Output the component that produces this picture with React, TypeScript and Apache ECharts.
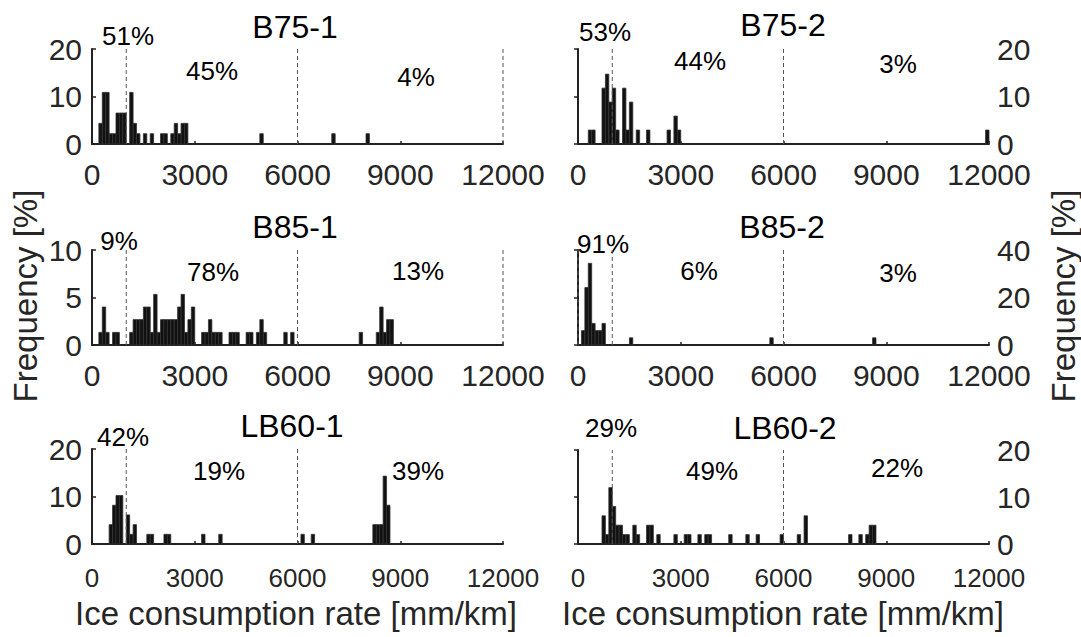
import React, { useEffect, useRef } from "react";
import * as echarts from "echarts";

// ---------- data (bin start [mm/km], frequency [%]) ----------
const BIN_WIDTH = 100;
const X_TICKS = [0, 3000, 6000, 9000, 12000];

const B75_1_START = [200, 300, 400, 500, 600, 700, 800, 900, 1100, 1200, 1300, 1500, 1700, 2000, 2100, 2300, 2400, 2500, 2600, 2700, 4900, 7000, 8000];
const B75_1_FREQ = [4.35, 10.87, 10.87, 2.17, 2.17, 6.52, 6.52, 6.52, 10.87, 4.35, 2.17, 2.17, 2.17, 2.17, 2.17, 2.17, 4.35, 2.17, 4.35, 4.35, 2.17, 2.17, 2.17];
const B75_1_LINES = [1000, 6000, 12000];
const B75_1_PCT = ["51%", "45%", "4%"];

const B75_2_START = [300, 400, 700, 800, 900, 1000, 1100, 1300, 1400, 1500, 1700, 2000, 2600, 2800, 2900, 11900];
const B75_2_FREQ = [2.94, 2.94, 11.76, 14.71, 8.82, 11.76, 2.94, 11.76, 2.94, 8.82, 2.94, 2.94, 2.94, 5.88, 2.94, 2.94];
const B75_2_LINES = [1000, 6000];
const B75_2_PCT = ["53%", "44%", "3%"];

const B85_1_START = [200, 300, 400, 600, 700, 1100, 1200, 1300, 1400, 1500, 1600, 1700, 1800, 1900, 2000, 2100, 2200, 2300, 2400, 2500, 2600, 2700, 2800, 2900, 3200, 3300, 3400, 3500, 3600, 3700, 4000, 4100, 4200, 4500, 4600, 4800, 4900, 5000, 5600, 5800, 7800, 8300, 8400, 8500, 8600, 8700];
const B85_1_FREQ = [1.33, 4, 1.33, 1.33, 1.33, 1.33, 2.67, 2.67, 2.67, 4, 4, 1.33, 5.33, 1.33, 2.67, 2.67, 2.67, 2.67, 2.67, 4, 5.33, 1.33, 2.67, 4, 1.33, 1.33, 2.67, 1.33, 1.33, 1.33, 1.33, 1.33, 1.33, 1.33, 1.33, 1.33, 2.67, 1.33, 1.33, 1.33, 1.33, 1.33, 4, 1.33, 2.67, 2.67];
const B85_1_LINES = [1000, 6000, 12000];
const B85_1_PCT = ["9%", "78%", "13%"];

const B85_2_START = [100, 200, 300, 400, 500, 600, 700, 1500, 5600, 8600];
const B85_2_FREQ = [6.06, 24.2, 34.4, 9.09, 6.06, 6.06, 9.09, 3.03, 3.03, 3.03];
const B85_2_LINES = [0, 1000, 6000];
const B85_2_PCT = ["91%", "6%", "3%"];

const LB60_1_START = [500, 600, 700, 800, 1000, 1100, 1200, 1600, 1700, 2100, 2200, 3200, 3700, 6100, 6400, 8200, 8300, 8400, 8500, 8600];
const LB60_1_FREQ = [4.08, 8.16, 10.2, 10.2, 6.12, 2.04, 4.08, 2.04, 2.04, 2.04, 2.04, 2.04, 2.04, 2.04, 2.04, 4.08, 4.08, 4.08, 14.29, 8.16];
const LB60_1_LINES = [1000, 6000];
const LB60_1_PCT = ["42%", "19%", "39%"];

const LB60_2_START = [700, 800, 900, 1000, 1100, 1200, 1300, 1400, 1600, 1700, 2000, 2100, 2300, 2800, 3100, 3200, 3500, 3700, 3800, 4400, 4900, 5200, 5900, 6400, 6600, 7900, 8200, 8400, 8500, 8600];
const LB60_2_FREQ = [6, 2, 12, 8, 4, 4, 2, 2, 4, 2, 4, 4, 2, 2, 2, 2, 2, 2, 2, 2, 2, 2, 2, 2, 6, 2, 2, 2, 4, 4];
const LB60_2_LINES = [1000, 6000];
const LB60_2_PCT = ["29%", "49%", "22%"];

const X_LABEL = "Ice consumption rate [mm/km]";
const Y_LABEL = "Frequency [%]";

// ---------- layout ----------
const FONT = "'Liberation Sans', Arial, Helvetica, sans-serif";
const PANELS = [
  { title: "B75-1", left: 92, top: 49, h: 95, side: "left", ymax: 20, yint: 10, starts: B75_1_START, freq: B75_1_FREQ, lines: B75_1_LINES, pct: B75_1_PCT,
    titlePos: [295, 27], pctPos: [[128, 36], [212, 71], [416, 77]], xFont: 30, xMargin: 15 },
  { title: "B75-2", left: 578, top: 49, h: 95, side: "right", ymax: 20, yint: 10, starts: B75_2_START, freq: B75_2_FREQ, lines: B75_2_LINES, pct: B75_2_PCT,
    titlePos: [783, 25], pctPos: [[605, 32], [700, 61], [898, 64]], xFont: 30, xMargin: 15 },
  { title: "B85-1", left: 92, top: 250, h: 95, side: "left", ymax: 10, yint: 5, starts: B85_1_START, freq: B85_1_FREQ, lines: B85_1_LINES, pct: B85_1_PCT,
    titlePos: [295, 227], pctPos: [[119, 241], [213, 272], [418, 271]], xFont: 30, xMargin: 15 },
  { title: "B85-2", left: 578, top: 250, h: 95, side: "right", ymax: 40, yint: 20, starts: B85_2_START, freq: B85_2_FREQ, lines: B85_2_LINES, pct: B85_2_PCT,
    titlePos: [782, 227], pctPos: [[603, 244], [699, 271], [898, 273]], xFont: 30, xMargin: 15 },
  { title: "LB60-1", left: 92, top: 449, h: 95, side: "left", ymax: 20, yint: 10, starts: LB60_1_START, freq: LB60_1_FREQ, lines: LB60_1_LINES, pct: LB60_1_PCT,
    titlePos: [292, 426], pctPos: [[123, 437], [219, 471], [418, 471]], xFont: 26, xMargin: 21 },
  { title: "LB60-2", left: 578, top: 450, h: 94, side: "right", ymax: 20, yint: 10, starts: LB60_2_START, freq: LB60_2_FREQ, lines: LB60_2_LINES, pct: LB60_2_PCT,
    titlePos: [785, 428], pctPos: [[611, 428], [712, 471], [897, 468]], xFont: 26, xMargin: 21 },
];
const GRID_W = 411;
const AXIS_COLOR = "#222";
const LABEL_COLOR = "#262626";

function buildOption() {
  const grid: any[] = [];
  const xAxis: any[] = [];
  const yAxis: any[] = [];
  const series: any[] = [];
  const graphic: any[] = [];

  PANELS.forEach((p, i) => {
    grid.push({ left: p.left, top: p.top, width: GRID_W, height: p.h, containLabel: false });
    xAxis.push({
      gridIndex: i, type: "value", min: X_TICKS[0], max: X_TICKS[X_TICKS.length - 1], interval: 3000,
      axisLine: { show: true, onZero: false, lineStyle: { color: AXIS_COLOR, width: 2 } },
      axisTick: { show: true, inside: true, length: 3, lineStyle: { color: AXIS_COLOR, width: 1.5 } },
      axisLabel: { show: true, fontSize: p.xFont, color: LABEL_COLOR, fontFamily: FONT, margin: p.xMargin,
        formatter: (v: number) => String(v) },
      splitLine: { show: false },
    });
    yAxis.push({
      gridIndex: i, type: "value", position: p.side, min: 0, max: p.ymax, interval: p.yint,
      axisLine: { show: true, lineStyle: { color: AXIS_COLOR, width: 2 } },
      axisTick: { show: true, inside: true, length: 4, lineStyle: { color: AXIS_COLOR, width: 1.5 } },
      axisLabel: { show: true, fontSize: 30, lineHeight: 22, color: LABEL_COLOR, fontFamily: FONT, margin: p.side === "left" ? 10 : 8,
        formatter: (v: number) => String(v) },
      splitLine: { show: false },
    });
    series.push({
      type: "custom", xAxisIndex: i, yAxisIndex: i, z: 2,
      data: p.starts.map((s, k) => [s, p.freq[k]]),
      encode: { x: 0, y: 1 },
      renderItem: (params: any, api: any) => {
        const x0 = api.value(0);
        const y = api.value(1);
        const a = api.coord([x0, 0]);
        const b = api.coord([x0 + BIN_WIDTH, y]);
        return {
          type: "rect",
          shape: { x: a[0], y: b[1], width: b[0] - a[0], height: a[1] - b[1] },
          style: { fill: "#111", stroke: "#333", lineWidth: 0.8 },
        };
      },
    });
    series.push({
      type: "custom", xAxisIndex: i, yAxisIndex: i, z: 3,
      data: p.lines.map((v) => [v, p.ymax]),
      encode: { x: 0, y: 1 },
      renderItem: (params: any, api: any) => {
        const v = api.value(0);
        const a = api.coord([v, 0]);
        const b = api.coord([v, api.value(1)]);
        return {
          type: "line",
          shape: { x1: a[0], y1: a[1], x2: b[0], y2: b[1] },
          style: { stroke: "#555", lineWidth: 1, lineDash: [4, 3] },
        };
      },
    });
    graphic.push({
      type: "text", x: p.titlePos[0], y: p.titlePos[1],
      style: { text: p.title, font: `32px ${FONT}`, fill: "#000", align: "center", verticalAlign: "middle" },
    });
    p.pct.forEach((t, k) => {
      graphic.push({
        type: "text", x: p.pctPos[k][0], y: p.pctPos[k][1],
        style: { text: t, font: `26px ${FONT}`, fill: "#000", align: "center", verticalAlign: "middle" },
      });
    });
  });

  graphic.push(
    { type: "text", x: 296, y: 613, style: { text: X_LABEL, font: `33px ${FONT}`, fill: LABEL_COLOR, align: "center", verticalAlign: "middle" } },
    { type: "text", x: 783, y: 613, style: { text: X_LABEL, font: `33px ${FONT}`, fill: LABEL_COLOR, align: "center", verticalAlign: "middle" } },
    { type: "text", x: 25, y: 296, rotation: Math.PI / 2, style: { text: Y_LABEL, font: `33px ${FONT}`, fill: LABEL_COLOR, align: "center", verticalAlign: "middle" } },
    { type: "text", x: 1063, y: 296, rotation: Math.PI / 2, style: { text: Y_LABEL, font: `33px ${FONT}`, fill: LABEL_COLOR, align: "center", verticalAlign: "middle" } }
  );

  return { animation: false, backgroundColor: "#fff", grid, xAxis, yAxis, series, graphic };
}

export default function App() {
  const ref = useRef<HTMLDivElement>(null);
  useEffect(() => {
    if (!ref.current) return;
    const chart = echarts.init(ref.current, undefined, { renderer: "svg" });
    chart.setOption(buildOption() as any);
    return () => chart.dispose();
  }, []);
  return (
    <div
      ref={ref}
      style={{ position: "fixed", left: 0, top: 0, width: 1081, height: 637, background: "#fff" }}
    />
  );
}
